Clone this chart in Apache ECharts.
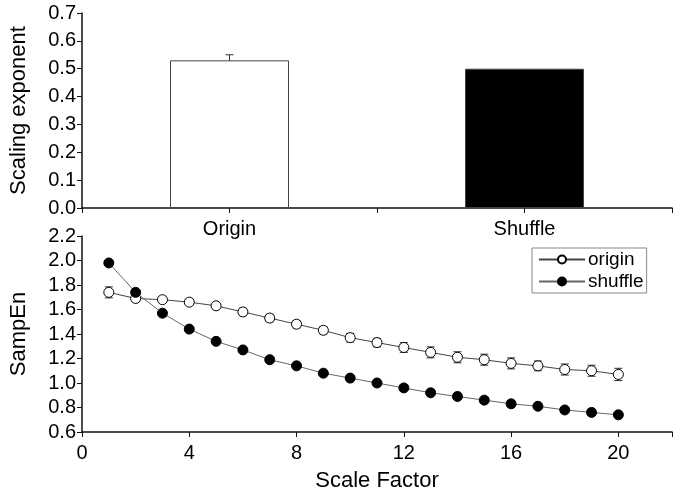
<!DOCTYPE html>
<html>
<head>
<meta charset="utf-8">
<script src="https://cdn.jsdelivr.net/npm/echarts@6/dist/echarts.min.js"></script>
<style>
  html, body { margin: 0; padding: 0; background: #fff; }
  #chart { width: 675px; height: 494px; }
</style>
</head>
<body>
<div id="chart"></div>
<script>
// top panel: scaling exponent per group
var groups = ['Origin', 'Shuffle'];
var groupPos = [1, 3];
var exponent = [0.53, 0.50];
var exponentErr = [0.02, 0];

// bottom panel: SampEn vs scale factor
var scales = [1, 2, 3, 4, 5, 6, 7, 8, 9, 10, 11, 12, 13, 14, 15, 16, 17, 18, 19, 20];
var originEn = [1.74, 1.69, 1.68, 1.66, 1.63, 1.58, 1.53, 1.48, 1.43, 1.37,
                1.33, 1.29, 1.25, 1.21, 1.19, 1.16, 1.14, 1.11, 1.10, 1.07];
var originErr = [0.045, 0.02, 0.02, 0.025, 0.025, 0.03, 0.03, 0.03, 0.03, 0.035,
                 0.035, 0.04, 0.045, 0.045, 0.045, 0.045, 0.04, 0.045, 0.045, 0.05];
var shuffleEn = [1.98, 1.74, 1.57, 1.44, 1.34, 1.27, 1.19, 1.14, 1.08, 1.04,
                 1.00, 0.96, 0.92, 0.89, 0.86, 0.83, 0.81, 0.78, 0.76, 0.74];

var font = 'Liberation Sans, Arial, sans-serif';
var axisColor = '#111';

function errorBars(xs, ys, errs, capW) {
  return function (params, api) {
    var i = params.dataIndex;
    if (!errs[i]) return null;
    var top = api.coord([xs[i], ys[i] + errs[i]]);
    var bot = api.coord([xs[i], ys[i] - errs[i]]);
    var st = { stroke: '#333', lineWidth: 1 };
    return {
      type: 'group',
      children: [
        { type: 'line', shape: { x1: top[0], y1: top[1], x2: bot[0], y2: bot[1] }, style: st },
        { type: 'line', shape: { x1: top[0] - capW, y1: top[1], x2: top[0] + capW, y2: top[1] }, style: st },
        { type: 'line', shape: { x1: bot[0] - capW, y1: bot[1], x2: bot[0] + capW, y2: bot[1] }, style: st }
      ]
    };
  };
}

var chart = echarts.init(document.getElementById('chart'));

chart.setOption({
  animation: false,
  textStyle: { fontFamily: font },
  grid: [
    { left: 81, right: 0, top: 13, height: 195 },
    { left: 82, right: 0, top: 236, height: 196 }
  ],
  legend: {
    data: ['origin', 'shuffle'],
    orient: 'vertical',
    left: 532,
    top: 248,
    itemWidth: 46,
    itemHeight: 10,
    itemGap: 3,
    padding: [2, 3, 2, 6],
    borderColor: '#888',
    borderWidth: 1,
    textStyle: { fontFamily: font, fontSize: 19, color: '#000', padding: [0, 0, 0, -2] }
  },
  xAxis: [{
    gridIndex: 0,
    type: 'value',
    min: 0, max: 4, interval: 1,
    splitLine: { show: false },
    axisLine: { lineStyle: { color: axisColor, width: 1.5 } },
    axisTick: { length: 5, lineStyle: { color: axisColor } },
    axisLabel: {
      color: '#000', fontSize: 20, margin: 11,
      formatter: function (v) {
        var k = groupPos.indexOf(v);
        return k >= 0 ? groups[k] : '';
      }
    }
  }, {
    gridIndex: 1,
    type: 'value',
    min: 0, max: 22, interval: 4,
    name: 'Scale Factor',
    nameLocation: 'middle',
    nameGap: 38,
    nameTextStyle: { fontSize: 22, color: '#000' },
    splitLine: { show: false },
    axisLine: { lineStyle: { color: axisColor, width: 1.5 } },
    axisTick: { length: 5, lineStyle: { color: axisColor } },
    axisLabel: {
      color: '#000', fontSize: 20, margin: 11,
      formatter: function (v) { return v % 4 === 0 ? String(v) : ''; }
    }
  }],
  yAxis: [{
    gridIndex: 0,
    type: 'value',
    min: 0, max: 0.7, interval: 0.1,
    name: 'Scaling exponent',
    nameLocation: 'middle',
    nameGap: 52,
    nameTextStyle: { fontSize: 22, color: '#000' },
    splitLine: { show: false },
    axisLine: { show: true, lineStyle: { color: axisColor, width: 1.5 } },
    axisTick: { show: true, length: 5, lineStyle: { color: axisColor } },
    axisLabel: {
      color: '#000', fontSize: 20, margin: 6,
      formatter: function (v) { return v.toFixed(1); }
    }
  }, {
    gridIndex: 1,
    type: 'value',
    min: 0.6, max: 2.2, interval: 0.2,
    name: 'SampEn',
    nameLocation: 'middle',
    nameGap: 52,
    nameTextStyle: { fontSize: 22, color: '#000' },
    splitLine: { show: false },
    axisLine: { show: true, lineStyle: { color: axisColor, width: 1.5 } },
    axisTick: { show: true, length: 5, lineStyle: { color: axisColor } },
    axisLabel: {
      color: '#000', fontSize: 20, margin: 6,
      formatter: function (v) { return v.toFixed(1); }
    }
  }],
  series: [{
    type: 'custom',
    xAxisIndex: 0, yAxisIndex: 0,
    renderItem: errorBars(groupPos, exponent, exponentErr, 4),
    data: groupPos.map(function (x, i) { return [x, exponent[i]]; }),
    z: 1
  }, {
    type: 'bar',
    xAxisIndex: 0, yAxisIndex: 0,
    barWidth: 119,
    data: groupPos.map(function (x, i) {
      return {
        value: [x, exponent[i]],
        itemStyle: { color: i === 0 ? '#fff' : '#000', borderColor: '#444', borderWidth: 1 }
      };
    }),
    z: 2
  }, {
    type: 'custom',
    xAxisIndex: 1, yAxisIndex: 1,
    renderItem: errorBars(scales, originEn, originErr, 4),
    data: scales.map(function (x, i) { return [x, originEn[i]]; }),
    z: 1
  }, {
    name: 'origin',
    type: 'line',
    xAxisIndex: 1, yAxisIndex: 1,
    symbol: 'circle',
    symbolSize: 10,
    lineStyle: { color: '#444', width: 1 },
    itemStyle: { color: '#fff', borderColor: '#000', borderWidth: 1 },
    data: scales.map(function (x, i) { return [x, originEn[i]]; }),
    z: 3
  }, {
    name: 'shuffle',
    type: 'line',
    xAxisIndex: 1, yAxisIndex: 1,
    symbol: 'circle',
    symbolSize: 10,
    lineStyle: { color: '#666', width: 1 },
    itemStyle: { color: '#000', borderColor: '#000', borderWidth: 1 },
    data: scales.map(function (x, i) { return [x, shuffleEn[i]]; }),
    z: 4
  }]
});
</script>
</body>
</html>
